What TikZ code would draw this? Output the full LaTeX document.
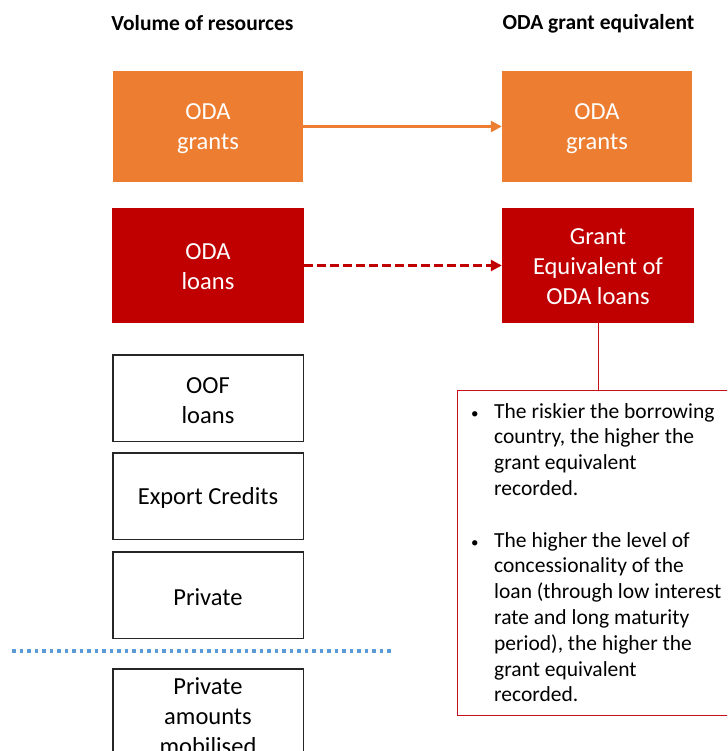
\documentclass[tikz,border=0pt]{standalone}
\usepackage{fontspec}
\setmainfont{Carlito}
\usetikzlibrary{arrows.meta}
\definecolor{odaorange}{HTML}{ED7D31}
\definecolor{odared}{HTML}{C00000}
\definecolor{notered}{HTML}{C8101A}
\definecolor{dotblue}{HTML}{5B9BD5}
\newcommand{\smallbul}{{\fontsize{15}{15}\selectfont\textbullet}}
\begin{document}
\begin{tikzpicture}[x=1pt,y=-1pt,
  header/.style={font=\bfseries\fontsize{21.5}{26}\selectfont, anchor=base, inner sep=0},
  boxbase/.style={rectangle, inner sep=0},
  boxtext/.style={inner sep=0, align=center, font=\fontsize{24.5}{30}\selectfont},
  whitetext/.style={boxtext, text=white},
  orangebox/.style={boxbase, fill=odaorange, minimum width=190pt, minimum height=111pt},
  redbox/.style={boxbase, fill=odared, minimum width=192pt, minimum height=115pt},
  whitebox/.style={boxbase, draw=black!85, line width=1.5pt, fill=white, minimum width=190.5pt, minimum height=86.5pt},
  notebox/.style={rectangle, draw=notered, line width=1.3pt, inner sep=0},
  solidarrow/.style={odaorange, line width=2.5pt, -{Triangle[length=11pt,width=11pt]}},
  dasharrow/.style={odared, line width=2.5pt, dash pattern=on 9pt off 4pt, -{Triangle[length=11pt,width=11pt]}},
  divider/.style={dotblue, line width=3.5pt, dash pattern=on 3.5pt off 4pt},
  link/.style={notered, line width=1pt}
]
\useasboundingbox (0,0) rectangle (727,751);
\clip (0,0) rectangle (727,751);

\node[header] (h1) at (202.5,31) {Volume of resources};
\node[header] (h2) at (598.5,30) {ODA grant equivalent};

\node[orangebox] (g1) at (208,126.5) {};
\node[whitetext] (g1t) at ([yshift=-2.5pt]g1.center) {ODA\\grants};
\node[orangebox] (g2) at (597,126.5) {};
\node[whitetext] (g2t) at ([yshift=-2.5pt]g2.center) {ODA\\grants};
\node[redbox] (l1) at (208,265.5) {};
\node[whitetext] (l1t) at ([yshift=-1pt]l1.center) {ODA\\loans};
\node[redbox] (l2) at (598,265.5) {};
\node[whitetext] (l2t) at ([yshift=-1pt]l2.center) {Grant\\Equivalent of\\ODA loans};

\node[whitebox] (oof) at (208,398) {};
\node[boxtext] (ooft) at ([yshift=-2.5pt]oof.center) {OOF\\loans};
\node[whitebox] (exp) at (208,496) {};
\node[boxtext] (expt) at ([yshift=-2pt]exp.center) {Export Credits};
\node[whitebox] (priv) at (208,595) {};
\node[boxtext] (privt) at ([yshift=-2pt]priv.center) {Private};
\node[whitebox, minimum height=92.5pt] (mob) at (208,715) {};
\node[boxtext] (mobt) at ([yshift=-1.5pt]mob.center) {Private\\amounts\\mobilised};

\coordinate (d1) at (12,651);
\coordinate (d2) at (393,651);
\draw[divider] (d1) -- (d2);

\draw[solidarrow] (g1.east) -- (g2.west);
\draw[dasharrow] (l1.east) -- (l2.west);

\node[notebox, minimum width=282.3pt, minimum height=324.6pt] (note) at (598.85,553) {};
\draw[link] (l2.south) -- (l2.south |- note.north);

\node[anchor=base west, inner sep=0] (txt) at (471,418) {\fontsize{21.5}{25.8}\selectfont
\begin{tabular}[t]{@{}p{23pt}@{}l@{}}
\smallbul & The riskier the borrowing\\
 & country, the higher the\\
 & grant equivalent\\
 & recorded.\\
 & \\
\smallbul & The higher the level of\\
 & concessionality of the\\
 & loan (through low interest\\
 & rate and long maturity\\
 & period), the higher the\\
 & grant equivalent\\
 & recorded.
\end{tabular}};
\end{tikzpicture}
\end{document}
